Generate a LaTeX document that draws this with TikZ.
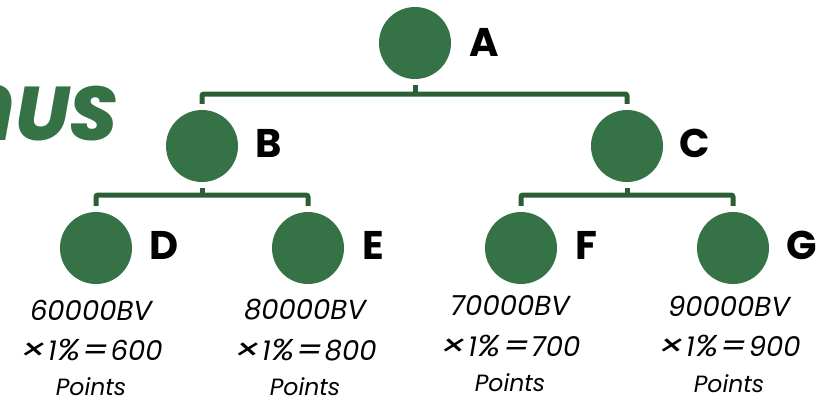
\documentclass[tikz,border=0pt]{standalone}
\usepackage{fontspec}
\setmainfont{Poppins}[ItalicFont={Poppins Italic},BoldFont={Poppins Bold},BoldItalicFont={Poppins ExtraBold Italic}]
\definecolor{leaf}{HTML}{357245}
\definecolor{bar}{HTML}{2B5E37}
\newcommand{\opsym}[2]{\kern 1pt\scalebox{#1}[1.1]{#2}\kern 1pt}
\tikzset{
  x=1pt,y=-1pt,
  dot/.style={circle,fill=leaf,inner sep=0pt,minimum size=72pt},
  tag/.style={font=\bfseries\fontsize{40}{40}\selectfont,text=black,inner sep=0pt},
  calc/.style={font=\itshape\fontsize{27.5}{27.5}\selectfont,text=black,inner sep=0pt},
  calcs/.style={font=\itshape\fontsize{23.5}{23.5}\selectfont,text=black,inner sep=0pt},
  conn/.style={draw=bar,line width=5pt,rounded corners=2pt},
  stub/.style={draw=bar,line width=5pt}
}
\begin{document}
\begin{tikzpicture}
\useasboundingbox (0,0) rectangle (827,400);
\fill[white] (0,0) rectangle (827,400);
\begin{scope}
\clip (0,0) rectangle (827,400);
\node[anchor=base east,inner sep=0pt,text=leaf,font=\bfseries\itshape\fontsize{76}{76}\selectfont] (title) at (118,140) {{\fontsize{98}{98}\selectfont n}US};
\end{scope}
\node[dot] (A) at (415,43) {};
\node[dot] (B) at (202,146) {};
\node[dot] (C) at (627,146) {};
\node[dot] (D) at (96,248) {};
\node[dot] (E) at (308,248) {};
\node[dot] (F) at (521,248) {};
\node[dot] (G) at (733,248) {};
\coordinate (ab) at (415,94);
\coordinate (bb) at (202,195);
\coordinate (cb) at (627,195);
\draw[stub,shorten <=6pt] (A.south) -- (ab);
\draw[conn,shorten <=6pt,shorten >=6pt] (B.north) |- (ab) -| (C.north);
\draw[stub,shorten <=6pt] (B.south) -- (bb);
\draw[conn,shorten <=6pt,shorten >=6pt] (D.north) |- (bb) -| (E.north);
\draw[stub,shorten <=6pt] (C.south) -- (cb);
\draw[conn,shorten <=6pt,shorten >=6pt] (F.north) |- (cb) -| (G.north);
\node[tag] (la) at (484,42) {A};
\node[tag] (lb) at (269,143) {B};
\node[tag] (lc) at (695,143) {C};
\node[tag] (ld) at (164,245) {D};
\node[tag] (le) at (373,245) {E};
\node[tag] (lf) at (586,245) {F};
\node[tag] (lg) at (802,245) {G};
\node[calc] (d1) at (91,310) {60000BV};
\node[calc] (d2) at (91,350) {\opsym{1.5}{×}1\opsym{1.25}{\%}\opsym{1.35}{=}600};
\node[calcs] (d3) at (91,387) {Points};
\node[calc] (e1) at (305,310) {80000BV};
\node[calc] (e2) at (305,350) {\opsym{1.5}{×}1\opsym{1.25}{\%}\opsym{1.35}{=}800};
\node[calcs] (e3) at (305,387) {Points};
\node[calc] (f1) at (510,306) {70000BV};
\node[calc] (f2) at (510,346) {\opsym{1.5}{×}1\opsym{1.25}{\%}\opsym{1.35}{=}700};
\node[calcs] (f3) at (510,383) {Points};
\node[calc] (g1) at (729,306) {90000BV};
\node[calc] (g2) at (729,346) {\opsym{1.5}{×}1\opsym{1.25}{\%}\opsym{1.35}{=}900};
\node[calcs] (g3) at (729,384) {Points};
\end{tikzpicture}
\end{document}
